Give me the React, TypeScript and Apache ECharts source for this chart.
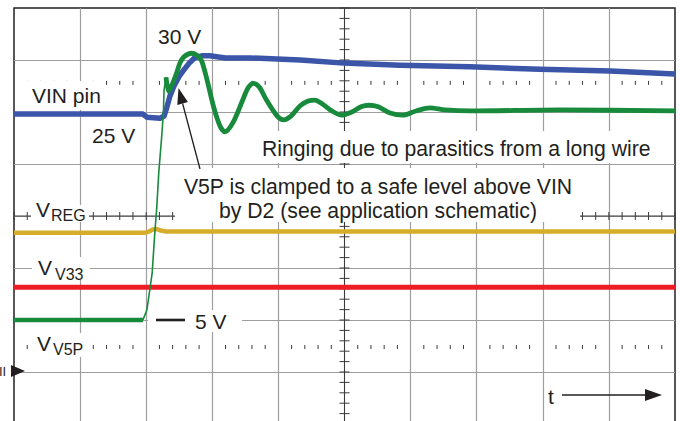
import React, { useEffect, useRef } from 'react';
import * as echarts from 'echarts';

// Screen coordinates in oscilloscope divisions: x 0..10 (time), y 0..8 (from bottom)
const xDivisions = 10;
const yDivisions = 8;

// VIN pin (blue)
const vinPin: [number, number][] = [
  [0, 5.96], [1.95, 5.96], [2.01, 5.9], [2.21, 5.88], [2.27, 5.92], [2.31, 6.08],
  [2.36, 6.31], [2.42, 6.5], [2.5, 6.69], [2.57, 6.81], [2.65, 6.94], [2.73, 7.04],
  [2.84, 7.08], [2.96, 7.08], [3.2, 7.04], [3.57, 7.04], [4.33, 7.0], [4.99, 6.94],
  [5.84, 6.9], [6.9, 6.87], [7.96, 6.82], [9.02, 6.79], [10.0, 6.73],
];

// V5P (green): flat part, fast rising edge, ringing
const v5pFlat: [number, number][] = [
  [0, 2.0], [0.8, 2.0], [1.5, 2.0], [1.95, 2.0],
];
const v5pEdge: [number, number][] = [
  [1.95, 2.0], [2.01, 2.19], [2.06, 2.63], [2.09, 2.9], [2.13, 3.67], [2.16, 4.17],
  [2.19, 4.83], [2.23, 5.46], [2.26, 5.98], [2.27, 6.42], [2.3, 6.67],
];
const v5pRinging: [number, number][] = [
  [2.3, 6.67], [2.34, 6.4], [2.39, 6.52], [2.46, 6.75], [2.51, 6.94], [2.57, 7.06],
  [2.69, 7.13], [2.78, 7.08], [2.84, 6.98], [2.92, 6.62], [3.02, 6.1], [3.12, 5.72],
  [3.19, 5.62], [3.31, 5.79], [3.46, 6.23], [3.54, 6.46], [3.62, 6.55], [3.71, 6.48],
  [3.82, 6.23], [3.99, 5.91], [4.08, 5.85], [4.19, 5.92], [4.33, 6.12], [4.45, 6.21],
  [4.55, 6.23], [4.67, 6.15], [4.81, 6.02], [4.96, 5.94], [5.11, 6.0], [5.25, 6.1],
  [5.37, 6.13], [5.51, 6.1], [5.69, 5.98], [5.88, 5.94], [6.08, 6.02], [6.29, 6.08],
  [6.52, 6.04], [6.9, 6.02], [8.26, 6.04], [10.0, 6.02],
];

// VREG (yellow)
const vReg: [number, number][] = [
  [0, 3.68], [1.98, 3.68], [2.04, 3.7], [2.1, 3.74], [2.16, 3.75], [2.22, 3.72],
  [2.31, 3.7], [10.0, 3.7],
];

// VV33 (red)
const vV33: [number, number][] = [[0, 2.63], [10.0, 2.63]];

// Graticule
const centerRow = 4;
const centerCol = 5;
const cursorRows = [6.56, 1.48];
const minorStep = 0.2;

const ticks: number[][] = [];
for (let i = 0; i <= xDivisions / minorStep; i++) {
  ticks.push([+(i * minorStep).toFixed(2), centerRow, 4, 0]);
  if (i % 5 !== 0) {
    cursorRows.forEach((r) => ticks.push([+(i * minorStep).toFixed(2), r, 2, 0]));
  }
}
for (let j = 0; j <= yDivisions / minorStep; j++) {
  ticks.push([centerCol, +(j * minorStep).toFixed(2), 5, 1]);
}

const centerH: [number, number][] = [[0, centerRow], [xDivisions, centerRow]];
const centerV: [number, number][] = [[centerCol, 0], [centerCol, yDivisions]];

const FONT = '"Liberation Sans", Arial, Helvetica, sans-serif';
const INK = '#231f20';

const txt = (text: string, x: number, y: number, size = 21, align = 'left') => ({
  type: 'text',
  x,
  y,
  z: 20,
  silent: true,
  style: { text, fontSize: size, fontFamily: FONT, fill: INK, align, verticalAlign: 'middle' },
});
const box = (x: number, y: number, w: number, h: number) => ({
  type: 'rect',
  z: 3,
  silent: true,
  shape: { x, y, width: w, height: h },
  style: { fill: '#ffffff' },
});

export default function App() {
  const ref = useRef<HTMLDivElement>(null);
  useEffect(() => {
    if (!ref.current) return;
    const chart = echarts.init(ref.current, undefined, { renderer: 'svg' });
    const axisCommon = {
      type: 'value',
      axisLine: { show: false },
      axisTick: { show: false },
      axisLabel: { show: false },
      splitLine: { show: true, showMinLine: false, showMaxLine: false, lineStyle: { color: '#9e9e9e', width: 1.2 } },
    };
    const lineCommon = {
      type: 'line',
      showSymbol: false,
      symbol: 'none',
      silent: true,
      z: 5,
    };
    // arrow geometry
    const tail = [200, 169];
    const tip = [178.5, 88];
    const dx = tip[0] - tail[0];
    const dy = tip[1] - tail[1];
    const len = Math.hypot(dx, dy);
    const ux = dx / len;
    const uy = dy / len;
    const hl = 16;
    const hw = 5.5;
    const bx = tip[0] - ux * hl;
    const by = tip[1] - uy * hl;

    chart.setOption({
      animation: false,
      backgroundColor: '#ffffff',
      grid: {
        left: 14,
        top: 8,
        width: 661,
        height: 416,
        show: true,
        borderColor: '#231f20',
        borderWidth: 1.5,
        backgroundColor: '#ffffff',
        containLabel: false,
        outerBoundsMode: 'none',
      },
      xAxis: { ...axisCommon, min: 0, max: xDivisions, interval: 1 },
      yAxis: { ...axisCommon, min: 0, max: yDivisions, interval: 1 },
      series: [
        {
          type: 'custom',
          z: 1,
          silent: true,
          encode: { x: 0, y: 1 },
          data: ticks,
          renderItem: (params: any, api: any) => {
            const p = api.coord([api.value(0), api.value(1)]);
            const h = api.value(2);
            const horiz = api.value(3) === 1;
            return {
              type: 'line',
              shape: horiz
                ? { x1: p[0] - h, y1: p[1], x2: p[0] + h, y2: p[1] }
                : { x1: p[0], y1: p[1] - h, x2: p[0], y2: p[1] + h },
              style: { stroke: '#3a3a3a', lineWidth: 1 },
            };
          },
        },
        { ...lineCommon, z: 1, data: centerH, lineStyle: { color: '#3a3a3a', width: 1 } },
        { ...lineCommon, z: 1, data: centerV, lineStyle: { color: '#3a3a3a', width: 1 } },
        { ...lineCommon, name: 'VREG', data: vReg, lineStyle: { color: '#d6ad2b', width: 4.5 } },
        { ...lineCommon, name: 'VV33', data: vV33, lineStyle: { color: '#ee1c25', width: 5 } },
        { ...lineCommon, name: 'VIN', data: vinPin, lineStyle: { color: '#3b55a9', width: 5.5, join: 'round' } },
        { ...lineCommon, name: 'V5P', data: v5pFlat, lineStyle: { color: '#178a3c', width: 4.5 } },
        { ...lineCommon, name: 'V5P edge', data: v5pEdge, lineStyle: { color: '#178a3c', width: 1.6 } },
        {
          ...lineCommon,
          name: 'V5P ringing',
          data: v5pRinging,
          smooth: 0.3,
          lineStyle: { color: '#178a3c', width: 4.8, join: 'round' },
        },
      ],
      graphic: {
        elements: [
          box(15, 81, 90, 29),
          box(253, 131, 409, 32),
          box(175, 168, 405, 54),
          box(31, 205, 58, 17),
          box(32, 257, 58, 23),
          box(148, 310, 94, 22),
          box(31, 333, 58, 24),
          txt('30 V', 158, 36),
          txt('VIN pin', 32, 95),
          txt('25 V', 92, 135),
          txt('Ringing due to parasitics from a long wire', 262, 148, 21.2),
          txt('V5P is clamped to a safe level above VIN', 378, 186, 21.2, 'center'),
          txt('by D2 (see application schematic)', 378, 210, 21.2, 'center'),
          txt('V', 36, 209),
          txt('REG', 51, 215.5, 16),
          txt('V', 38, 267),
          txt('V33', 55, 274, 16),
          txt('5 V', 195, 321),
          txt('V', 37, 343),
          txt('V5P', 53, 349.5, 16),
          txt('t', 548, 396),
          txt('II', -1, 371, 13),
          {
            type: 'line',
            z: 20,
            silent: true,
            shape: { x1: 156, y1: 320, x2: 185, y2: 320 },
            style: { stroke: INK, lineWidth: 2.6 },
          },
          {
            type: 'polygon',
            z: 20,
            silent: true,
            shape: { points: [[11, 365], [25, 371], [11, 377]] },
            style: { fill: INK },
          },
          {
            type: 'line',
            z: 20,
            silent: true,
            shape: { x1: tail[0], y1: tail[1], x2: bx, y2: by },
            style: { stroke: INK, lineWidth: 1.3 },
          },
          {
            type: 'polygon',
            z: 20,
            silent: true,
            shape: {
              points: [
                [tip[0], tip[1]],
                [bx - uy * hw, by + ux * hw],
                [bx + uy * hw, by - ux * hw],
              ],
            },
            style: { fill: INK },
          },
          {
            type: 'line',
            z: 20,
            silent: true,
            shape: { x1: 562, y1: 395, x2: 647, y2: 395 },
            style: { stroke: INK, lineWidth: 1.5 },
          },
          {
            type: 'polygon',
            z: 20,
            silent: true,
            shape: { points: [[645, 389], [662, 395], [645, 401]] },
            style: { fill: INK },
          },
        ],
      },
    });
    return () => chart.dispose();
  }, []);
  return (
    <div
      ref={ref}
      style={{ position: 'absolute', left: 0, top: 0, width: 680, height: 421, background: '#fff' }}
    />
  );
}
